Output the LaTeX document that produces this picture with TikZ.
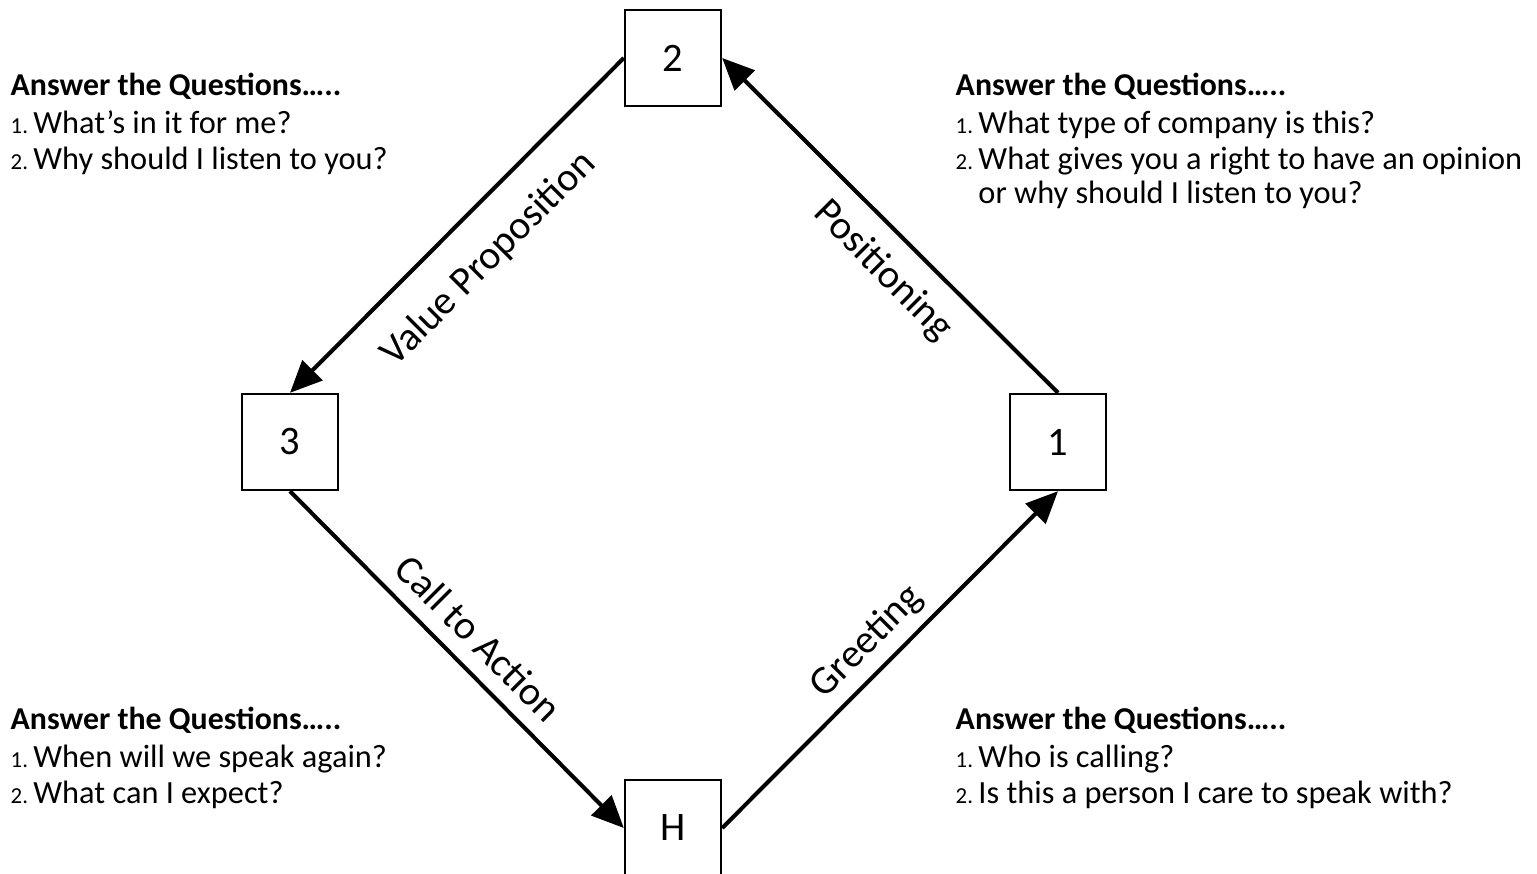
\documentclass[tikz,border=0pt]{standalone}
\usepackage{fontspec}
\setmainfont{Carlito}
\usetikzlibrary{arrows.meta,positioning}

\newcommand{\qn}[1]{{\fontsize{6.5}{6.5}\selectfont #1}\,}
\newcommand{\qhead}{{\fontsize{9.05}{10.4}\selectfont\bfseries Answer the Questions…..}}

\begin{document}
\begin{tikzpicture}[x=0.01cm,y=-0.01cm,
  stage/.style={draw, line width=0.65pt, minimum size=0.96cm, inner sep=0pt,
    font=\fontsize{11.5}{12}\selectfont},
  link/.style={-{Triangle[length=0.32cm,width=0.28cm]}, line width=1.15pt},
  lbl/.style={inner sep=0pt, font=\fontsize{11.4}{12}\selectfont},
  qbox/.style={align=left, anchor=north west, inner sep=0pt,
    font=\fontsize{9.2}{10.4}\selectfont}]
  \clip (0,0) rectangle (1537,873);
  \fill[white] (0,0) rectangle (1537,873);

  \node[stage] (n2) at (673,58) {2};
  \node[stage] (n3) at (290,442) {3};
  \node[stage] (n1) at (1058,442) {1};
  \node[stage] (nH) at (673,828) {H};

  \draw[link] (n1.north) -- (n2.east);
  \draw[link] (n2.west) -- (n3.north);
  \draw[link] (n3.south) -- (nH.west);
  \draw[link] (nH.east) -- (n1.south);

  \node[lbl, rotate=-45] (posit) at (883,271) {Positioning};
  \node[lbl, rotate=45] (value) at (489,259) {Value Proposition};
  \node[lbl, rotate=-45] (call) at (479,638) {Call to Action};
  \node[lbl, rotate=45] (greet) at (867,642) {Greeting};

  % questions
  \node[qbox] (q2) at (10,72) {\qhead\\[0.4pt]
    \qn{1.}What’s in it for me?\\
    \qn{2.}Why should I listen to you?};
  \node[qbox] (q1) at (955,72) {\qhead\\[0.4pt]
    \qn{1.}What type of company is this?\\
    \qn{2.}What gives you a right to have an opinion\\[-0.8pt]
    \hphantom{\qn{2.}}or why should I listen to you?};
  \node[qbox] (q3) at (10,706) {\qhead\\[0.4pt]
    \qn{1.}When will we speak again?\\
    \qn{2.}What can I expect?};
  \node[qbox] (qH) at (955,706) {\qhead\\[0.4pt]
    \qn{1.}Who is calling?\\
    \qn{2.}Is this a person I care to speak with?};
\end{tikzpicture}
\end{document}
